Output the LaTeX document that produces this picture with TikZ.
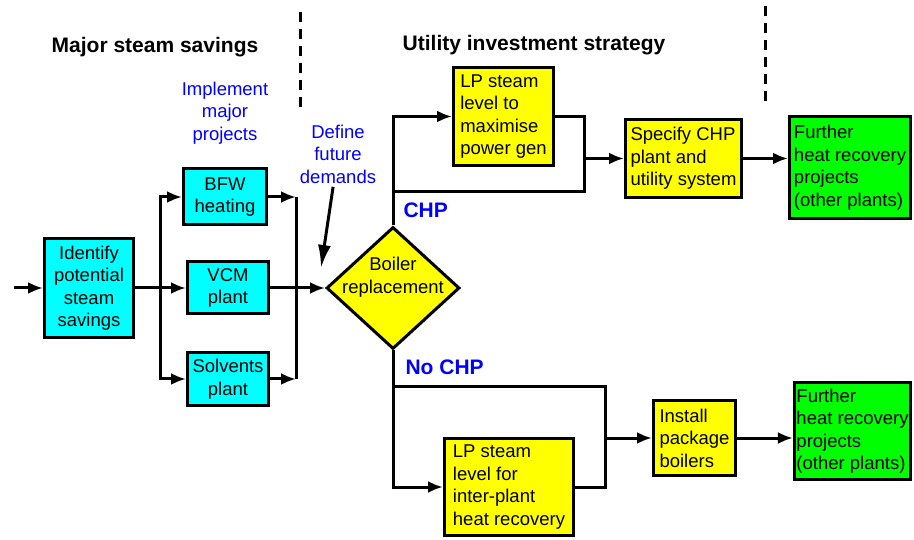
\documentclass[tikz,border=0pt]{standalone}
\usepackage{fontspec}
\setmainfont{Liberation Sans}
\usepackage{tikz}
\usetikzlibrary{shapes.geometric, arrows.meta, positioning, calc}
\definecolor{boxcyan}{RGB}{0,255,255}
\definecolor{boxyellow}{RGB}{255,255,0}
\definecolor{boxgreen}{RGB}{0,255,0}
\definecolor{noteblue}{RGB}{0,0,255}
\newcommand{\boxfont}{\fontsize{18.5}{22.5}\selectfont}
\newcommand{\headfont}{\fontsize{21}{25}\selectfont\bfseries}
\tikzset{
    block_cyan/.style={rectangle, draw, line width=3pt, fill=boxcyan, align=center, inner sep=2pt, font=\boxfont},
    block_yellow/.style={rectangle, draw, line width=3pt, fill=boxyellow, align=left, inner sep=2pt, font=\boxfont},
    block_green/.style={rectangle, draw, line width=3pt, fill=boxgreen, align=left, inner sep=2pt, font=\boxfont},
    decision/.style={diamond, draw, line width=3pt, fill=boxyellow, inner sep=0pt},
    note_blue/.style={text=noteblue, align=center, font=\boxfont},
    branch_label/.style={text=noteblue, anchor=west, font=\headfont},
    heading_text/.style={font=\headfont},
    link/.style={line width=3pt},
    arrow/.style={-{Latex[length=15pt, width=12pt]}, line width=3pt},
    long_arrow/.style={-{Latex[length=23pt, width=13pt]}, line width=3pt},
    divider/.style={line width=3pt, dash pattern=on 10pt off 7pt}
}
\begin{document}
\begin{tikzpicture}[x=1pt, y=-1pt]
    \useasboundingbox (0,0) rectangle (914,540);
    % headings and phase dividers
    \node (major) [heading_text] at (155,47) {Major steam savings};
    \node (utility) [heading_text] at (534,45) {Utility investment strategy};
    \draw [divider] (300,12) -- (300,108);
    \draw [divider] (765,6) -- (765,103);

    % major steam savings
    \node (ident) [block_cyan, minimum width=89pt, minimum height=99pt] at (89,288) {Identify\\potential\\steam\\savings};
    \node (vcm) [block_cyan, right=51pt of ident, minimum width=81pt, minimum height=52pt] {VCM\\plant};
    \node (bfw) [block_cyan, minimum width=83pt, minimum height=56pt] at (225,197) {BFW\\heating};
    \node (solv) [block_cyan, minimum width=81pt, minimum height=53pt] at (228,379) {Solvents\\plant};
    \node (implement) [note_blue] at (225,113) {Implement\\major\\projects};
    \coordinate (in) at (14,288);
    \coordinate (split) at (160,288);
    \coordinate (merge) at (296,288);

    \draw [arrow] (in) -- (ident);
    \draw [link] (ident) -- (split);
    \draw [arrow] (split) |- (bfw);
    \draw [arrow] (split) -- (vcm);
    \draw [arrow] (split) |- (solv);
    \draw [arrow] (bfw.east) -- (bfw.east -| merge);
    \draw [arrow] (solv.east) -- (solv.east -| merge);
    \draw [link] (bfw.east -| merge) -- (solv.east -| merge);

    % decision
    \node (boiler) [decision, minimum width=133pt, minimum height=122pt] at (393,288) {};
    \node (boiler_text) [align=center, font=\boxfont] at ($(boiler)+(0,-11)$) {Boiler\\replacement};
    \node (define) [note_blue] at (338,154) {Define\\future\\demands};
    \coordinate (demand) at (321,268);
    \draw [arrow] (vcm) -- (boiler);
    \draw [long_arrow] (define) -- (demand);
    \node (chp_label) [branch_label] at (400,210) {CHP};
    \node (nochp_label) [branch_label] at (402,367) {No CHP};

    % CHP branch
    \node (lp_chp) [block_yellow, minimum width=100pt, minimum height=98pt] at (503.5,116.5) {LP steam\\level to\\maximise\\power gen};
    \node (specify) [block_yellow, minimum width=116pt, minimum height=78pt] at (683.5,158.5) {Specify CHP\\plant and\\utility system};
    \node (further_chp) [block_green, minimum width=121pt, minimum height=102pt] at (850,167.5) {Further\\heat recovery\\projects\\(other plants)};
    \coordinate (chp_join) at (584,192);
    \draw [arrow] (boiler.north) |- (lp_chp);
    \draw [link] (lp_chp.east) -| (chp_join) -- (boiler.north |- chp_join);
    \draw [arrow] (specify.west -| chp_join) -- (specify.west);
    \draw [arrow] (specify.east) -- (specify.east -| further_chp.west);

    % no CHP branch
    \node (lp_nochp) [block_yellow, minimum width=129pt, minimum height=97pt] at (509,487) {LP steam\\level for\\inter-plant\\heat recovery};
    \node (install) [block_yellow, minimum width=82pt, minimum height=75pt] at (694.5,438) {Install\\package\\boilers};
    \node (further_nochp) [block_green, minimum width=116pt, minimum height=97pt] at (852.5,431) {Further\\heat recovery\\projects\\(other plants)};
    \coordinate (nochp_join) at (605,387);
    \draw [arrow] (boiler.south) |- (lp_nochp);
    \draw [link] (boiler.south |- nochp_join) -| (lp_nochp.east -| nochp_join) -- (lp_nochp.east);
    \draw [arrow] (install.west -| nochp_join) -- (install.west);
    \draw [arrow] (install.east) -- (install.east -| further_nochp.west);
\end{tikzpicture}
\end{document}
